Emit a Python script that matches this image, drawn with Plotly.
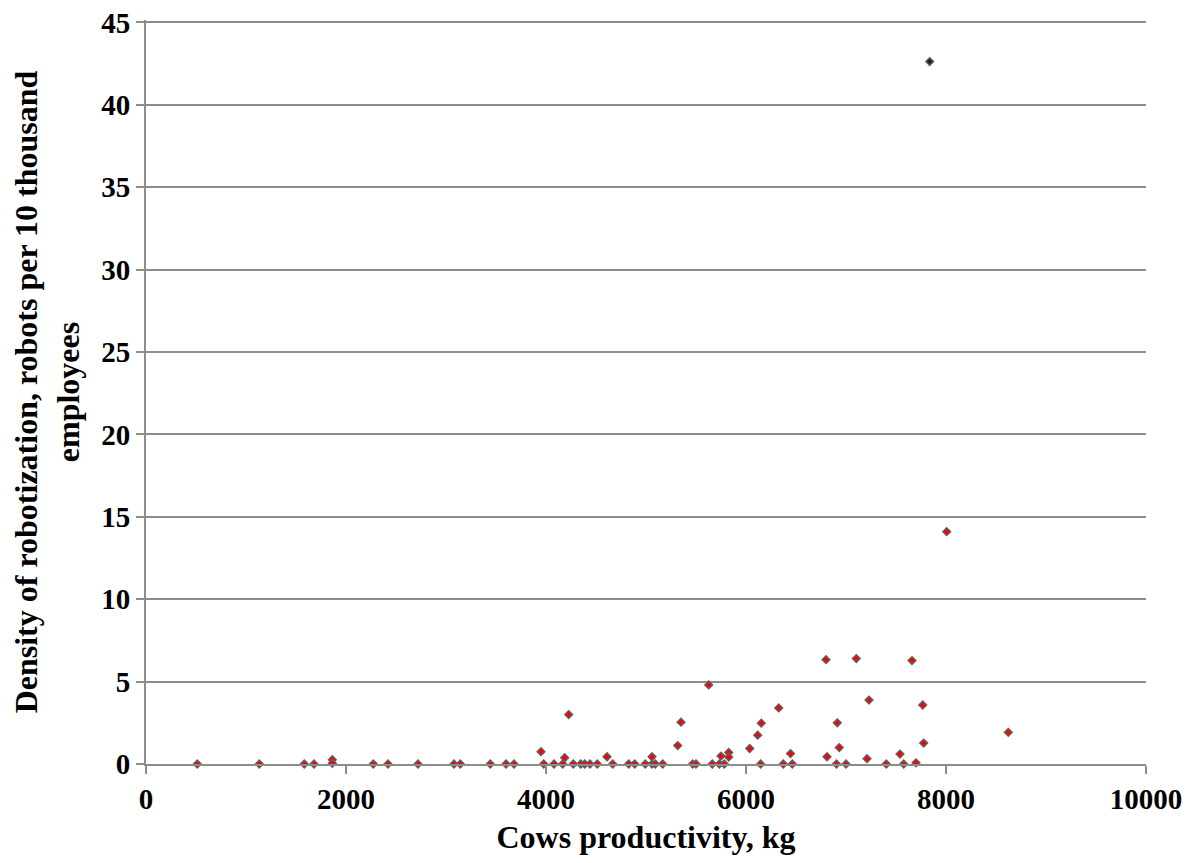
import plotly.graph_objects as go

productivity_kg = [513, 1133, 1583, 1680, 1863, 1863, 2273, 2420, 2720, 3080, 3143, 3443, 3600, 3680,
                   3950, 3977, 4080, 4167, 4187, 4227, 4273, 4347, 4387, 4440, 4513, 4610, 4667, 4827,
                   4887, 4993, 5060, 5060, 5093, 5167, 5317, 5350, 5467, 5500, 5627, 5663, 5733, 5750,
                   5783, 5827, 5827, 6037, 6117, 6147, 6153, 6327, 6373, 6445, 6463, 6800, 6810, 6905,
                   6913, 6933, 7000, 7103, 7210, 7230, 7403, 7540, 7577, 7660, 7700, 7767, 7777, 8007,
                   8623]
density = [0, 0, 0, 0, 0.26, 0.04, 0, 0, 0, 0, 0, 0, 0, 0,
           0.75, 0, 0, 0, 0.38, 3.0, 0, 0, 0, 0, 0, 0.44, 0, 0,
           0, 0, 0.44, 0, 0, 0, 1.12, 2.54, 0, 0, 4.8, 0, 0, 0.48,
           0, 0.7, 0.42, 0.94, 1.75, 0, 2.48, 3.4, 0, 0.63, 0, 6.33, 0.44, 0,
           2.5, 1.0, 0, 6.4, 0.32, 3.88, 0, 0.6, 0, 6.28, 0.07, 3.58, 1.27, 14.1,
           1.92]
outlier_kg = [7837]
outlier_density = [42.63]

x_ticks = [0, 2000, 4000, 6000, 8000, 10000]
y_ticks = [0, 5, 10, 15, 20, 25, 30, 35, 40, 45]

font = dict(family="Liberation Serif", size=29, color="black", weight="bold")
title_font = dict(family="Liberation Serif", size=32, color="black", weight="bold")

fig = go.Figure()
fig.add_trace(go.Scatter(
    x=productivity_kg, y=density, mode="markers",
    marker=dict(symbol="diamond", size=6, color="#ff0000",
                line=dict(color="#5f5f5f", width=1.4)),
    showlegend=False, cliponaxis=False))
fig.add_trace(go.Scatter(
    x=outlier_kg, y=outlier_density, mode="markers",
    marker=dict(symbol="diamond", size=6, color="#202020",
                line=dict(color="#5f5f5f", width=1.4)),
    showlegend=False, cliponaxis=False))

fig.update_layout(
    width=1180, height=847,
    margin=dict(l=138, r=42, t=12, b=91, autoexpand=False),
    plot_bgcolor="white", paper_bgcolor="white",
    font=font,
    xaxis=dict(range=[0, 10000], tickvals=x_ticks, ticktext=[str(v) for v in x_ticks],
               showgrid=False, zeroline=False, showline=True, linecolor="#8c8c8c", linewidth=2,
               ticks="outside", ticklen=8, tickcolor="#8c8c8c", tickwidth=2,
               tickfont=font, automargin=False, ticklabeloverflow="allow",
               title=dict(text="Cows productivity, kg", font=title_font, standoff=21)),
    yaxis=dict(range=[0, 45.15], tickvals=y_ticks, ticktext=[str(v) for v in y_ticks],
               showgrid=True, gridcolor="#8c8c8c", gridwidth=2, zeroline=False,
               showline=True, linecolor="#8c8c8c", linewidth=2,
               ticks="outside", ticklen=8, tickcolor="#8c8c8c", tickwidth=2,
               tickfont=font, automargin=False, ticklabeloverflow="allow",
               title=dict(text="Density of robotization, robots per 10 thousand<br>employees",
                          font=title_font, standoff=19)),
)

fig.write_html("out.html")
